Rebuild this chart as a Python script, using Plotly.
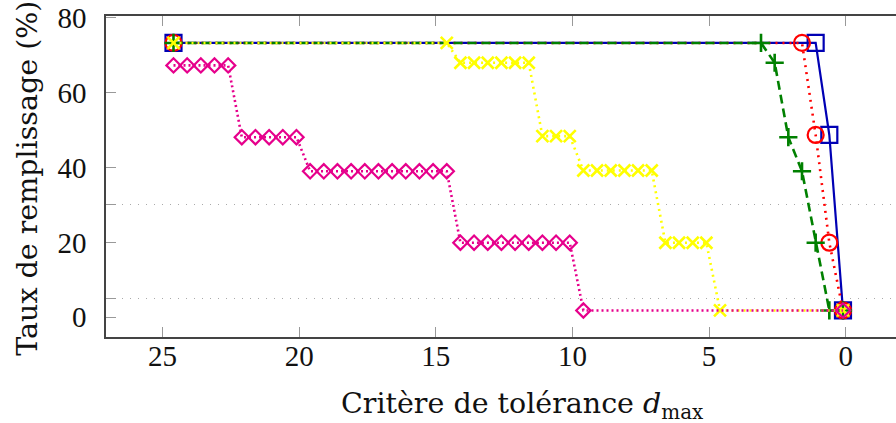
import plotly.graph_objects as go

# ---- data ----
blue_x = [24.6, 1.1, 0.6, 0.1]
blue_y = [73.3, 73.3, 48.7, 1.8]

red_x = [24.6, 1.6, 1.1, 0.6, 0.1]
red_y = [73.3, 73.3, 48.7, 19.9, 1.8]

green_x = [24.6, 3.1, 2.6, 2.1, 1.6, 1.1, 0.6, 0.1]
green_y = [73.3, 73.3, 68.0, 48.1, 39.0, 19.9, 1.8, 1.8]

yellow_x = [24.6, 14.6, 14.1, 13.6, 13.1, 12.6, 12.1, 11.6, 11.1, 10.6, 10.1,
            9.6, 9.1, 8.6, 8.1, 7.6, 7.1, 6.6, 6.1, 5.6, 5.1, 4.6, 0.1]
yellow_y = [73.3, 73.3, 68.0, 68.0, 68.0, 68.0, 68.0, 68.0, 48.4, 48.4, 48.4,
            39.2, 39.2, 39.2, 39.2, 39.2, 39.2, 19.9, 19.9, 19.9, 19.9, 1.8, 1.8]

magenta_x = [24.6, 24.1, 23.6, 23.1, 22.6,
             22.1, 21.6, 21.1, 20.6, 20.1,
             19.6, 19.1, 18.6, 18.1, 17.6, 17.1, 16.6, 16.1, 15.6, 15.1, 14.6,
             14.1, 13.6, 13.1, 12.6, 12.1, 11.6, 11.1, 10.6, 10.1,
             9.6, 0.1]
magenta_y = [67.3, 67.3, 67.3, 67.3, 67.3,
             48.1, 48.1, 48.1, 48.1, 48.1,
             39.0, 39.0, 39.0, 39.0, 39.0, 39.0, 39.0, 39.0, 39.0, 39.0, 39.0,
             19.9, 19.9, 19.9, 19.9, 19.9, 19.9, 19.9, 19.9, 19.9,
             1.8, 1.8]

x_ticks = [25, 20, 15, 10, 5, 0]
y_ticks = [0, 20, 40, 60, 80]
y_extra_ticks = [5, 30]

x_title = "Critère de tolérance <i>d</i><sub>max</sub>"
y_title = "Taux de remplissage (%)"

# ---- styles ----
BLUE = "#0000b4"
RED = "#ff0000"
GREEN = "#008000"
YELLOW = "#ffff00"
MAGENTA = "#e6008c"
TICK_FONT = dict(family="'Liberation Serif', serif", size=29, color="#111")
TITLE_FONT = dict(family="'DejaVu Serif', serif", size=28.5, color="#111")

fig = go.Figure()

fig.add_trace(go.Scatter(
    x=blue_x, y=blue_y, mode="lines+markers",
    line=dict(color=BLUE, width=2.2),
    marker=dict(symbol="square-open", size=16, color=BLUE, line=dict(width=2.2, color=BLUE)),
))
fig.add_trace(go.Scatter(
    x=red_x, y=red_y, mode="lines+markers",
    line=dict(color=RED, width=2.6, dash="2px,5px"),
    marker=dict(symbol="circle-open", size=16, color=RED, line=dict(width=2.2, color=RED)),
))
fig.add_trace(go.Scatter(
    x=green_x, y=green_y, mode="lines+markers",
    line=dict(color=GREEN, width=2.6, dash="9px,5px"),
    marker=dict(symbol="cross-thin-open", size=13, color=GREEN, line=dict(width=2.6, color=GREEN)),
))
fig.add_trace(go.Scatter(
    x=yellow_x, y=yellow_y, mode="lines+markers",
    line=dict(color=YELLOW, width=2.6, dash="2px,4px"),
    marker=dict(symbol="x-thin-open", size=12, color=YELLOW, line=dict(width=2.6, color=YELLOW)),
))
fig.add_trace(go.Scatter(
    x=magenta_x, y=magenta_y, mode="lines+markers",
    line=dict(color=MAGENTA, width=2.6, dash="2px,3px"),
    marker=dict(symbol="diamond-open", size=11, color=MAGENTA, line=dict(width=2.2, color=MAGENTA)),
))

fig.update_layout(
    width=896, height=423,
    margin=dict(l=106, r=0, t=16, b=86, autoexpand=False),
    paper_bgcolor="white", plot_bgcolor="white",
    showlegend=False,
    xaxis=dict(
        range=[27.07, -1.84], tickvals=x_ticks, ticks="inside", ticklen=10,
        tickcolor="#999", tickwidth=1, showline=True, linecolor="#444", linewidth=1.5,
        mirror="ticks", showgrid=False, zeroline=False, tickfont=TICK_FONT,
        ticklabelstandoff=-8,
    ),
    yaxis=dict(
        range=[-5.3, 80.5], tickvals=y_ticks, ticks="inside", ticklen=10,
        tickcolor="#999", tickwidth=1, showline=True, linecolor="#444", linewidth=1.5,
        mirror=False, showgrid=False, zeroline=False, tickfont=TICK_FONT,
        ticklabelstandoff=12,
        minor=dict(tickvals=y_extra_ticks, ticks="inside", ticklen=10, tickcolor="#999",
                   showgrid=True, gridcolor="#aaaaaa", gridwidth=1, griddash="1px,7px"),
    ),
    annotations=[
        dict(text=x_title, xref="paper", yref="paper", x=0.526, y=-0.214,
             xanchor="center", yanchor="middle", showarrow=False, font=TITLE_FONT),
        dict(text=y_title, xref="paper", yref="paper", x=-0.1005, y=0.495,
             xanchor="center", yanchor="middle", showarrow=False, font=TITLE_FONT,
             textangle=-90),
    ],
)

fig.write_html("out.html", config={"displayModeBar": False},
               post_script="document.body.style.margin='0';document.body.style.overflow='hidden';")
